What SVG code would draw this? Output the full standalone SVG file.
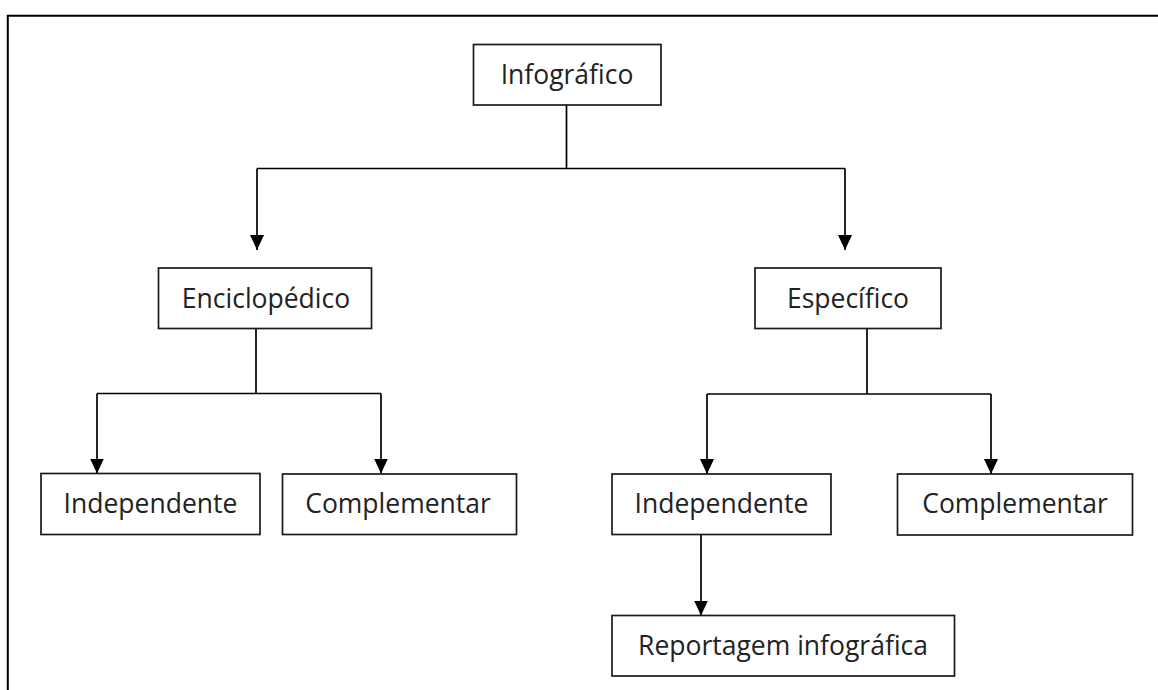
<svg xmlns="http://www.w3.org/2000/svg" width="1158" height="690" viewBox="0 0 1158 690">
<defs>
<marker id="ah" viewBox="0 0 15 14" refX="15" refY="7" markerWidth="15" markerHeight="14" markerUnits="userSpaceOnUse" orient="auto">
<path d="M0,0 L15,7 L0,14 Z" fill="#000"/>
</marker>
<style>
.box{fill:#fff;stroke:#1a1a1a;stroke-width:1.7}
.t{font-family:"Open Sans","Noto Sans",sans-serif;font-size:26.5px;fill:#222;text-anchor:middle}
.c{fill:none;stroke:#000;stroke-width:1.7}
.a{fill:none;stroke:#000;stroke-width:1.7;marker-end:url(#ah)}
</style>
</defs>
<rect width="1158" height="690" fill="#fff"/>
<path d="M7.8,690 V15.8 H1158" fill="none" stroke="#000" stroke-width="2"/>
<g id="connectors">
<path class="c" d="M566.5,105 V168.5 M257,168.5 H845"/>
<path class="a" d="M257,168.5 V250"/>
<path class="a" d="M845,168.5 V250"/>
<path class="c" d="M256,328 V393.5 M97,393.5 H381"/>
<path class="a" d="M97,393.5 V473.5"/>
<path class="a" d="M381,393.5 V473.5"/>
<path class="c" d="M867,328 V394 M707,394 H991"/>
<path class="a" d="M707,394 V474"/>
<path class="a" d="M991,394 V474"/>
<path class="a" d="M701,534.5 V615.5"/>
</g>
<g id="n-infografico"><rect class="box" x="473.5" y="44.5" width="187.5" height="60.5"/><text class="t" x="567" y="83.5">Infográfico</text></g>
<g id="n-enciclopedico"><rect class="box" x="158.5" y="268" width="213" height="60.5"/><text class="t" x="266" y="307.5">Enciclopédico</text></g>
<g id="n-especifico"><rect class="box" x="755" y="268" width="186" height="60.5"/><text class="t" x="848" y="307.5">Específico</text></g>
<g id="n-independente-1"><rect class="box" x="41" y="473.5" width="219" height="61"/><text class="t" x="150.5" y="513">Independente</text></g>
<g id="n-complementar-1"><rect class="box" x="282.5" y="474" width="234" height="60.5"/><text class="t" x="398" y="513">Complementar</text></g>
<g id="n-independente-2"><rect class="box" x="612" y="474" width="219" height="60.5"/><text class="t" x="721.5" y="513">Independente</text></g>
<g id="n-complementar-2"><rect class="box" x="897.5" y="474" width="235" height="61"/><text class="t" x="1015" y="513">Complementar</text></g>
<g id="n-reportagem"><rect class="box" x="612" y="615.5" width="342.5" height="60.5"/><text class="t" x="783" y="655">Reportagem infográfica</text></g>
</svg>
